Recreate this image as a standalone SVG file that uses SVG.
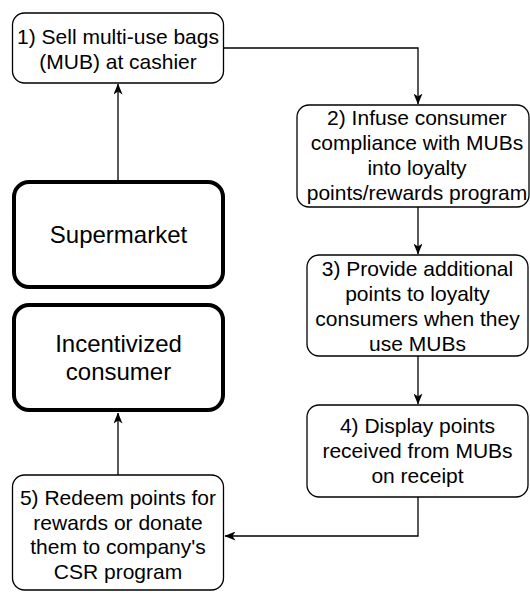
<svg xmlns="http://www.w3.org/2000/svg" width="530" height="593" viewBox="0 0 530 593">
<defs>
<style>
.box{fill:#fff;stroke:#000;stroke-width:1.3}
.thick{fill:#fff;stroke:#000;stroke-width:4}
.t{font-family:"Liberation Sans",Arial,Helvetica,sans-serif;font-size:21px;fill:#000;text-anchor:middle}
.tb{font-family:"Liberation Sans",Arial,Helvetica,sans-serif;font-size:24px;fill:#000;text-anchor:middle}
.c{fill:none;stroke:#000;stroke-width:1.3}
</style>
<marker id="ah" viewBox="0 0 11 9" refX="10.5" refY="4.5" markerWidth="11" markerHeight="9" markerUnits="userSpaceOnUse" orient="auto">
<path d="M0,0 L11,4.5 L0,9 L3,4.5 Z" fill="#000"/>
</marker>
</defs>
<g id="connectors">
<path class="c" d="M118,180 L118,84" marker-end="url(#ah)"/>
<path class="c" d="M224,48 L418,48 L418,104" marker-end="url(#ah)"/>
<path class="c" d="M418,207 L418,254" marker-end="url(#ah)"/>
<path class="c" d="M418,356 L418,404" marker-end="url(#ah)"/>
<path class="c" d="M418,497 L418,536 L225,536" marker-end="url(#ah)"/>
<path class="c" d="M118,475 L118,413" marker-end="url(#ah)"/>
</g>
<g id="node1">
<rect class="box" x="12.5" y="13" width="211" height="70" rx="12"/>
<text class="t" x="118" y="44">1) Sell multi-use bags</text>
<text class="t" x="118" y="69">(MUB) at cashier</text>
</g>
<g id="node2">
<rect class="box" x="297" y="105" width="232" height="102" rx="12"/>
<text class="t" x="417" y="125">2) Infuse consumer</text>
<text class="t" x="417" y="150">compliance with MUBs</text>
<text class="t" x="417" y="175">into loyalty</text>
<text class="t" x="417" y="200">points/rewards program</text>
</g>
<g id="node3">
<rect class="box" x="307" y="255" width="221" height="101" rx="12"/>
<text class="t" x="417.5" y="276">3) Provide additional</text>
<text class="t" x="417.5" y="301">points to loyalty</text>
<text class="t" x="417.5" y="326">consumers when they</text>
<text class="t" x="417.5" y="351">use MUBs</text>
</g>
<g id="node4">
<rect class="box" x="307" y="405" width="221" height="92" rx="12"/>
<text class="t" x="417.5" y="433">4) Display points</text>
<text class="t" x="417.5" y="458">received from MUBs</text>
<text class="t" x="417.5" y="483">on receipt</text>
</g>
<g id="node5">
<rect class="box" x="12.5" y="475" width="211" height="115" rx="12"/>
<text class="t" x="118" y="505">5) Redeem points for</text>
<text class="t" x="118" y="529.5">rewards or donate</text>
<text class="t" x="118" y="554">them to company's</text>
<text class="t" x="118" y="578.5">CSR program</text>
</g>
<g id="supermarket">
<rect class="thick" x="14" y="182" width="209" height="105" rx="15"/>
<text class="tb" x="118.5" y="243">Supermarket</text>
</g>
<g id="consumer">
<rect class="thick" x="14" y="305" width="209" height="105" rx="15"/>
<text class="tb" x="118.5" y="352">Incentivized</text>
<text class="tb" x="118.5" y="380">consumer</text>
</g>
</svg>
